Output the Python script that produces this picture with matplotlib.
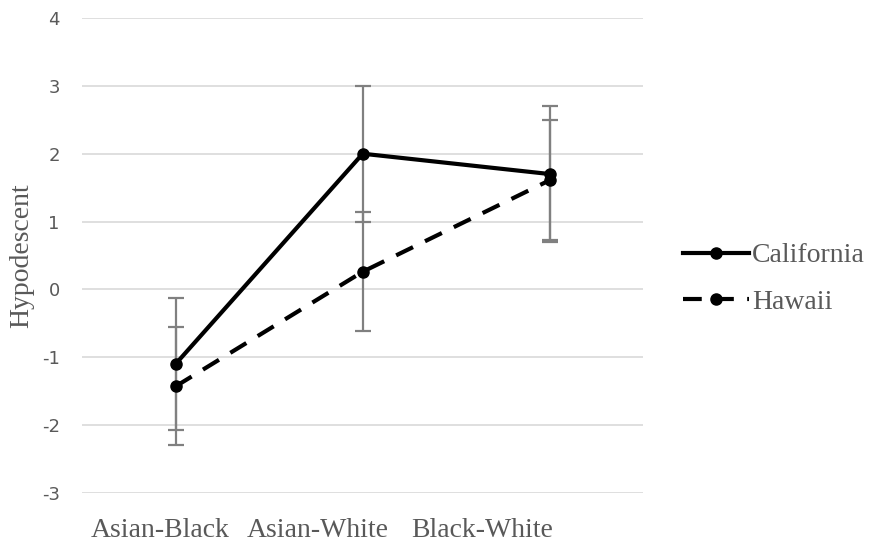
import numpy as np
import matplotlib
matplotlib.use('Agg')
import matplotlib.pyplot as plt
from matplotlib.transforms import ScaledTranslation

# group pairings and estimated means / error bar half-widths
pairs = ['Asian-Black', 'Asian-White', 'Black-White']
california = [-1.10, 2.00, 1.70]
california_err = [0.98, 1.00, 1.00]
hawaii = [-1.43, 0.26, 1.61]
hawaii_err = [0.87, 0.88, 0.88]

serif = ['Liberation Serif', 'DejaVu Serif']
grey = '#595959'
plt.rcParams['axes.unicode_minus'] = False

fig = plt.figure(figsize=(8.73, 5.47), dpi=100)
ax = fig.add_axes([0.094, 0.099, 0.643, 0.868])

x = np.arange(len(pairs))

ax.errorbar(x, california, yerr=california_err, fmt='none', ecolor='#808080',
            elinewidth=1.6, capsize=6, capthick=1.6, zorder=2)
ax.errorbar(x, hawaii, yerr=hawaii_err, fmt='none', ecolor='#808080',
            elinewidth=1.6, capsize=6, capthick=1.6, zorder=2)

ax.plot(x, california, color='black', lw=3, marker='o', ms=8,
        label='California', zorder=3)
ax.plot(x, hawaii, color='black', lw=3, ls=(0, (4.5, 3.2)), marker='o', ms=8,
        label='Hawaii', zorder=3)

ax.set_xlim(-0.5, 2.5)
ax.set_ylim(-3, 4)
ax.set_yticks(range(-3, 5))
ax.grid(axis='y', color='#d9d9d9', lw=1.2)
ax.set_axisbelow(True)
for s in ax.spines.values():
    s.set_visible(False)
ax.tick_params(length=0)
ax.tick_params(axis='y', labelsize=13, labelcolor=grey, pad=16)
ax.set_xticks(x)
ax.set_xticklabels(pairs, fontfamily=serif, fontsize=20, color=grey)
ax.tick_params(axis='x', pad=18)

# the category labels sit a bit left of their ticks in the original
shifts = [-0.15, -0.45, -0.68]
for lab, dx in zip(ax.get_xticklabels(), shifts):
    lab.set_transform(lab.get_transform() + ScaledTranslation(dx, 0, fig.dpi_scale_trans))

ax.set_ylabel('Hypodescent', fontfamily=serif, fontsize=20, color=grey)
ax.yaxis.set_label_coords(-0.086, 0.5)

leg = ax.legend(loc='center left', bbox_to_anchor=(1.07, 0.451), frameon=False,
                prop={'family': serif, 'size': 20}, handlelength=2.4,
                handletextpad=0.1, labelspacing=0.75, borderpad=0,
                borderaxespad=0)
for t in leg.get_texts():
    t.set_color(grey)

fig.savefig('out.png', dpi=100)
